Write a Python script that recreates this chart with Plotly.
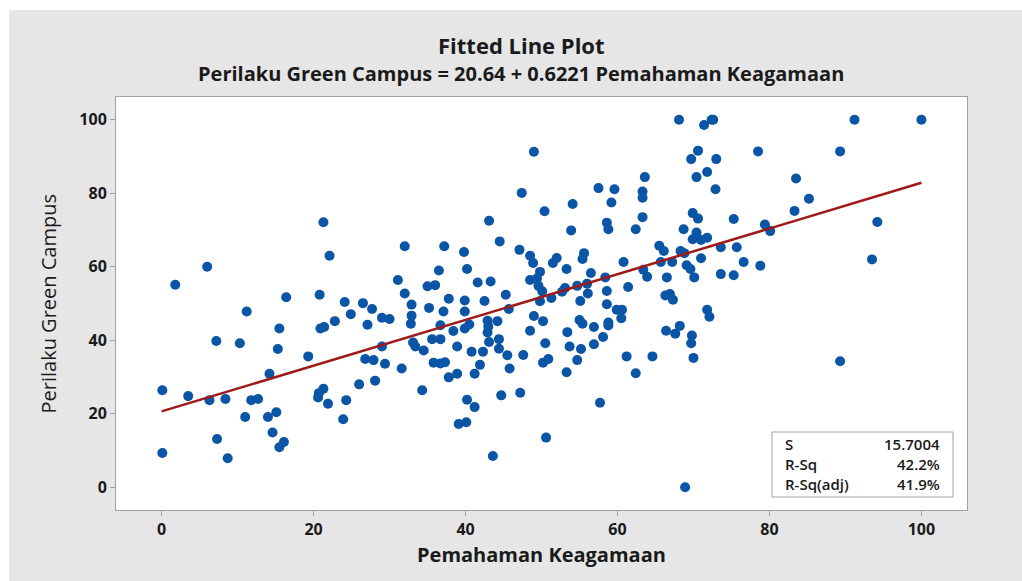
import numpy as np
import plotly.graph_objects as go

# Pemahaman Keagamaan (x) and Perilaku Green Campus (y)
x_vals = [6.0, 1.8, 16.4, 11.2, 15.5, 7.2, 10.3, 15.3, 19.3, 14.2, 0.1, 3.5, 6.3, 8.4, 11.8, 12.7,
          11.0, 14.0, 15.1, 14.6, 7.3, 16.1, 15.5, 0.1, 8.7,
          21.3, 43.1, 44.5, 32.0, 37.2, 39.8, 47.1, 22.1, 36.5, 40.2, 31.1, 35.0, 36.0, 41.6, 43.3,
          20.8, 32.0, 45.3, 24.1, 26.5, 37.8, 39.9, 42.5, 27.7, 32.9, 35.2, 37.1, 39.9, 45.7, 24.9,
          32.9, 29.0, 30.0, 20.9, 21.4, 22.8, 27.1, 32.8, 36.7, 38.4, 39.9, 40.5, 42.9, 43.0, 42.9,
          44.2, 35.6, 36.7, 33.1, 33.4, 43.1, 44.4, 29.0, 38.9, 34.5, 40.8, 42.3, 44.4, 45.5,
          26.8, 27.9, 29.4, 31.6, 35.8, 36.7, 37.3, 41.9, 45.8, 37.8, 38.9, 41.2, 26.0, 28.1, 21.3,
          20.7, 20.6, 21.9, 24.3, 34.3, 44.7, 47.2, 40.2, 41.2, 23.9, 39.1, 40.1, 43.6,
          49.0, 70.6, 69.7, 73.0, 63.6, 71.8, 70.4, 47.4, 57.5, 59.6, 63.3, 63.3, 72.9, 54.1, 59.2,
          50.4, 63.3, 69.9, 70.6, 58.6, 58.8, 53.9, 62.4, 68.7, 70.4, 69.9, 71.0, 71.8, 48.5, 48.9,
          52.0, 51.5, 55.6, 55.4, 65.5, 66.1, 68.3, 68.8, 71.0, 73.6, 49.8, 48.5, 49.4, 53.3, 56.5,
          60.8, 65.7, 67.2, 63.4, 63.9, 69.1, 69.6, 70.1, 73.6, 58.4, 66.5, 49.6, 50.1, 53.1, 52.7,
          54.7, 56.0, 56.1, 58.6, 61.4, 51.3, 49.8, 55.1, 58.6, 66.3, 66.9, 67.3, 59.9, 60.6, 71.8,
          60.5, 72.1, 49.0, 50.2, 55.0, 55.4, 56.9, 58.8, 58.8, 48.5, 53.4, 58.1, 66.4, 67.6, 68.2,
          69.8, 69.7, 50.5, 53.7, 55.2, 56.9, 47.6, 50.9, 50.2, 54.7, 61.2, 64.6, 70.0, 53.3, 62.4,
          57.7, 50.6,
          72.4, 72.6, 71.4, 91.2, 100.0, 78.5, 89.3, 83.5, 85.2, 83.3, 75.3, 79.4, 80.1, 94.2, 75.7,
          76.6, 78.8, 93.5, 75.3, 89.3, 68.9, 68.1]
y_vals = [60.0, 55.1, 51.7, 47.8, 43.2, 39.8, 39.2, 37.6, 35.6, 30.9, 26.4, 24.8, 23.7, 24.0, 23.7, 24.0,
          19.1, 19.1, 20.4, 14.9, 13.1, 12.3, 10.9, 9.3, 7.9,
          72.1, 72.5, 66.9, 65.6, 65.6, 64.0, 64.6, 63.0, 59.0, 59.4, 56.4, 54.7, 55.0, 55.7, 56.0,
          52.4, 52.7, 52.4, 50.4, 50.1, 51.3, 50.8, 50.7, 48.5, 49.7, 48.8, 47.8, 47.8, 48.5, 47.1,
          46.7, 46.1, 45.8, 43.2, 43.6, 45.2, 44.2, 44.5, 44.1, 42.5, 43.2, 44.3, 45.3, 43.7, 42.1,
          45.2, 40.3, 40.3, 39.4, 38.3, 39.5, 40.3, 38.3, 38.3, 37.2, 36.9, 36.9, 37.7, 35.9,
          34.9, 34.6, 33.6, 32.3, 33.9, 33.7, 34.0, 33.3, 32.3, 29.9, 30.9, 30.9, 28.0, 29.0, 26.8,
          25.6, 24.4, 22.7, 23.7, 26.4, 25.0, 25.7, 23.8, 21.8, 18.5, 17.2, 17.7, 8.5,
          91.3, 91.6, 89.3, 89.3, 84.4, 85.8, 84.4, 80.1, 81.4, 81.1, 80.5, 78.8, 81.1, 77.1, 77.5,
          75.1, 73.5, 74.6, 73.1, 72.0, 70.2, 69.9, 70.2, 70.2, 69.3, 67.5, 67.3, 67.9, 63.0, 61.0,
          62.4, 61.0, 63.7, 62.1, 65.7, 64.3, 64.3, 63.7, 62.3, 65.3, 58.6, 56.4, 56.8, 59.4, 58.3,
          61.3, 61.3, 61.3, 59.2, 57.3, 60.4, 59.4, 57.1, 58.0, 57.1, 57.1, 54.8, 53.3, 54.2, 53.2,
          54.8, 55.4, 52.7, 53.4, 54.5, 51.5, 50.6, 50.7, 49.8, 52.2, 52.6, 51.0, 48.3, 48.3, 48.3,
          46.0, 46.4, 46.6, 45.2, 45.5, 44.5, 43.6, 44.8, 44.0, 42.6, 42.2, 40.9, 42.6, 41.8, 43.9,
          41.3, 39.2, 39.2, 38.3, 37.6, 38.9, 36.0, 34.9, 33.9, 34.6, 35.6, 35.6, 35.2, 31.3, 31.0,
          23.0, 13.5,
          100.0, 100.0, 98.6, 100.0, 100.0, 91.4, 91.4, 84.0, 78.5, 75.2, 73.0, 71.5, 69.7, 72.2, 65.3,
          61.3, 60.3, 62.0, 57.7, 34.3, 0.0, 100.0]

intercept = 20.64
slope = 0.6221
x_ticks = [0, 20, 40, 60, 80, 100]
y_ticks = [0, 20, 40, 60, 80, 100]
stat_labels = ["S", "R-Sq", "R-Sq(adj)"]
stat_values = ["15.7004", "42.2%", "41.9%"]

x_line = np.linspace(0, 100, 101)
y_line = intercept + slope * x_line

FONT = "Open Sans"
INK = "#1a1a1a"
fig = go.Figure()
fig.add_trace(go.Scatter(x=x_vals, y=y_vals, mode="markers",
                         marker=dict(color="#0a55a5", size=10, line=dict(width=0)),
                         showlegend=False, hoverinfo="x+y"))
fig.add_trace(go.Scatter(x=x_line, y=y_line, mode="lines",
                         line=dict(color="#9e1a1a", width=2.5),
                         showlegend=False, hoverinfo="skip"))

L, R, T, B = 116, 55, 97, 71
W, H = 1022, 581
pw, ph = W - L - R, H - T - B

def px_x(p):
    return (p - L) / pw

def px_y(p):
    return (H - B - p) / ph

axis_common = dict(showgrid=False, zeroline=False, showline=True, mirror=True,
                   linecolor="#a0a0a0", linewidth=1, ticks="outside", ticklen=5,
                   tickcolor="#a0a0a0", tickwidth=1,
                   tickfont=dict(family=FONT, size=16, color=INK, weight="bold"))

fig.update_layout(
    width=W, height=H,
    margin=dict(l=L, r=R, t=T, b=B, pad=0),
    paper_bgcolor="#e6e6e6", plot_bgcolor="white",
    xaxis=dict(range=[-6, 106], tickvals=x_ticks, **axis_common),
    yaxis=dict(range=[-6.2, 106.2], tickvals=y_ticks, **axis_common),
    showlegend=False,
)

shapes = [
    dict(type="rect", xref="paper", yref="paper", x0=px_x(0), x1=px_x(W), y0=px_y(10), y1=px_y(0),
         fillcolor="white", line=dict(width=0), layer="below"),
    dict(type="rect", xref="paper", yref="paper", x0=px_x(0), x1=px_x(9), y0=px_y(H), y1=px_y(0),
         fillcolor="white", line=dict(width=0), layer="below"),
    dict(type="rect", xref="paper", yref="paper", x0=px_x(772), x1=px_x(953), y0=px_y(497),
         y1=px_y(432), fillcolor="white", line=dict(color="#a0a0a0", width=1), layer="above"),
]
fig.update_layout(shapes=shapes)

ann = []
ann.append(dict(text="Fitted Line Plot", xref="paper", yref="paper", x=px_x(521), y=px_y(45),
                xanchor="center", yanchor="middle", showarrow=False,
                font=dict(family=FONT, size=22, color=INK, weight="bold")))
ann.append(dict(text=f"Perilaku Green Campus = {intercept:.2f} + {slope:.4f} Pemahaman Keagamaan",
                xref="paper", yref="paper", x=px_x(521), y=px_y(73),
                xanchor="center", yanchor="middle", showarrow=False,
                font=dict(family=FONT, size=20, color=INK, weight="bold")))
ann.append(dict(text="Pemahaman Keagamaan", xref="paper", yref="paper", x=0.5, y=px_y(554),
                xanchor="center", yanchor="middle", showarrow=False,
                font=dict(family=FONT, size=20, color=INK, weight="bold")))
ann.append(dict(text="Perilaku Green Campus", xref="paper", yref="paper", x=px_x(48), y=0.5,
                xanchor="center", yanchor="middle", showarrow=False, textangle=-90,
                font=dict(family=FONT, size=20, color=INK)))
row_y = [444, 464, 484]
for lab, val, ry in zip(stat_labels, stat_values, row_y):
    ann.append(dict(text=lab, xref="paper", yref="paper", x=px_x(783), y=px_y(ry),
                    xanchor="left", yanchor="middle", showarrow=False,
                    font=dict(family=FONT, size=15, color=INK, weight=600)))
    ann.append(dict(text=val, xref="paper", yref="paper", x=px_x(942), y=px_y(ry),
                    xanchor="right", yanchor="middle", showarrow=False,
                    font=dict(family=FONT, size=15, color=INK, weight=600)))
fig.update_layout(annotations=ann)

fig.write_html("out.html", config={"displayModeBar": False},
               post_script="document.body.style.margin='0';document.body.style.overflow='hidden';")
